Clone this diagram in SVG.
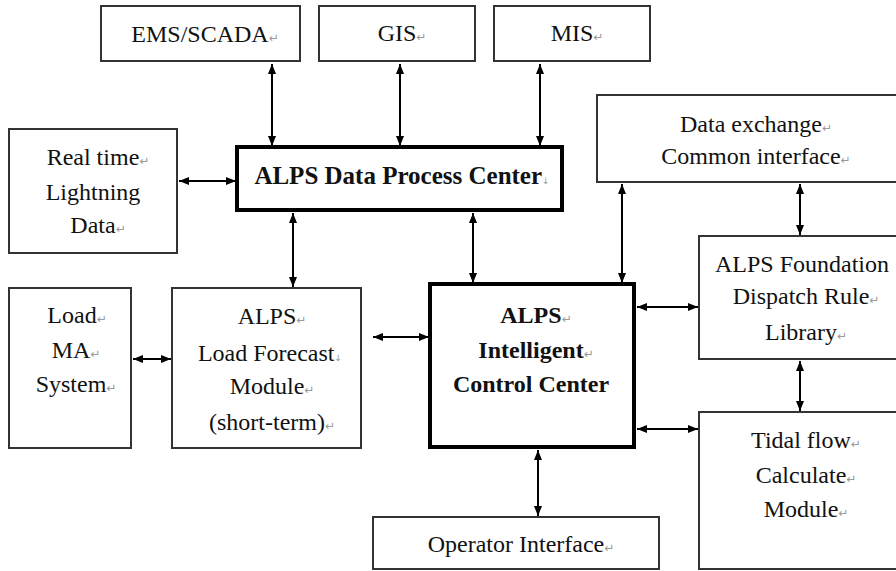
<svg xmlns="http://www.w3.org/2000/svg" width="896" height="571" viewBox="0 0 896 571">
<style>
.box{fill:#fff;stroke:#333;stroke-width:2}
.thick{fill:#fff;stroke:#000;stroke-width:4}
.t{font-family:"Liberation Serif","Times New Roman",Times,Tinos,"Noto Serif","DejaVu Serif",FreeSerif,Georgia,serif;font-size:24px;fill:#111;text-anchor:middle}
.b{font-weight:bold}
.pm{font-family:"DejaVu Sans",sans-serif;font-size:12px;fill:#999;font-weight:normal}
.lb{font-family:"DejaVu Sans",sans-serif;font-size:9px;fill:#999;font-weight:normal}
.c line{stroke:#000;stroke-width:2;marker-start:url(#ah);marker-end:url(#ah)}
</style>
<defs>
<marker id="ah" markerUnits="userSpaceOnUse" markerWidth="11" markerHeight="9" refX="10" refY="4.5" orient="auto-start-reverse">
<path d="M0,0.5 L10,4.5 L0,8.5 z" fill="#000"/>
</marker>
</defs>
<rect width="896" height="571" fill="#fff"/>
<g class="c" id="connectors">
<line x1="272" y1="64" x2="272" y2="146"/>
<line x1="400" y1="64" x2="400" y2="146"/>
<line x1="540" y1="64" x2="540" y2="146"/>
<line x1="179" y1="181" x2="236" y2="181"/>
<line x1="293" y1="213" x2="293" y2="287"/>
<line x1="473" y1="213" x2="473" y2="283"/>
<line x1="622" y1="184" x2="622" y2="283"/>
<line x1="800" y1="184" x2="800" y2="235"/>
<line x1="133" y1="359" x2="171" y2="359"/>
<line x1="373" y1="337" x2="429" y2="337"/>
<line x1="637" y1="307" x2="698" y2="307"/>
<line x1="637" y1="429" x2="698" y2="429"/>
<line x1="800" y1="361" x2="800" y2="411"/>
<line x1="538" y1="450" x2="538" y2="516"/>
</g>
<g id="ems">
<rect class="box" x="101" y="6" width="199" height="55"/>
<text class="t" x="205" y="42">EMS/SCADA<tspan class="pm">↵</tspan></text>
</g>
<g id="gis">
<rect class="box" x="319" y="6" width="156" height="55"/>
<text class="t" x="402" y="41">GIS<tspan class="pm">↵</tspan></text>
</g>
<g id="mis">
<rect class="box" x="494" y="6" width="156" height="55"/>
<text class="t" x="577" y="41">MIS<tspan class="pm">↵</tspan></text>
</g>
<g id="lightning">
<rect class="box" x="9" y="129" width="168" height="124"/>
<text class="t" x="98" y="165">Real time<tspan class="pm">↵</tspan></text>
<text class="t" x="93" y="200">Lightning</text>
<text class="t" x="98" y="233">Data<tspan class="pm">↵</tspan></text>
</g>
<g id="dpc">
<rect class="thick" x="237" y="147" width="325" height="63"/>
<text class="t b" x="402" y="184" style="font-size:25px">ALPS Data Process Center<tspan class="lb">↓</tspan></text>
</g>
<g id="dataexchange">
<rect class="box" x="597" y="95" width="330" height="87"/>
<text class="t" x="756" y="132">Data exchange<tspan class="pm">↵</tspan></text>
<text class="t" x="756" y="164">Common interface<tspan class="pm">↵</tspan></text>
</g>
<g id="foundation">
<rect class="box" x="699" y="236" width="220" height="123"/>
<text class="t" x="802" y="272">ALPS Foundation</text>
<text class="t" x="806" y="304">Dispatch Rule<tspan class="pm">↵</tspan></text>
<text class="t" x="806" y="340">Library<tspan class="pm">↵</tspan></text>
</g>
<g id="tidal">
<rect class="box" x="699" y="412" width="220" height="157"/>
<text class="t" x="806" y="448">Tidal flow<tspan class="pm">↵</tspan></text>
<text class="t" x="806" y="483">Calculate<tspan class="pm">↵</tspan></text>
<text class="t" x="806" y="517">Module<tspan class="pm">↵</tspan></text>
</g>
<g id="loadma">
<rect class="box" x="9" y="288" width="122" height="160"/>
<text class="t" x="77" y="323">Load<tspan class="pm">↵</tspan></text>
<text class="t" x="76" y="358">MA<tspan class="pm">↵</tspan></text>
<text class="t" x="76" y="392">System<tspan class="pm">↵</tspan></text>
</g>
<g id="lfm">
<rect class="box" x="172" y="288" width="189" height="160"/>
<text class="t" x="272" y="324">ALPS<tspan class="pm">↵</tspan></text>
<text class="t" x="270" y="361">Load Forecast<tspan class="lb">↓</tspan></text>
<text class="t" x="272" y="394">Module<tspan class="pm">↵</tspan></text>
<text class="t" x="272" y="430">(short-term)<tspan class="pm">↵</tspan></text>
</g>
<g id="icc">
<rect class="thick" x="430" y="284" width="204" height="163"/>
<text class="t b" x="536" y="323">ALPS<tspan class="pm">↵</tspan></text>
<text class="t b" x="536" y="358">Intelligent<tspan class="pm">↵</tspan></text>
<text class="t b" x="531" y="392">Control Center</text>
</g>
<g id="operator">
<rect class="box" x="373" y="517" width="286" height="52"/>
<text class="t" x="521" y="552">Operator Interface<tspan class="pm">↵</tspan></text>
</g>
</svg>
